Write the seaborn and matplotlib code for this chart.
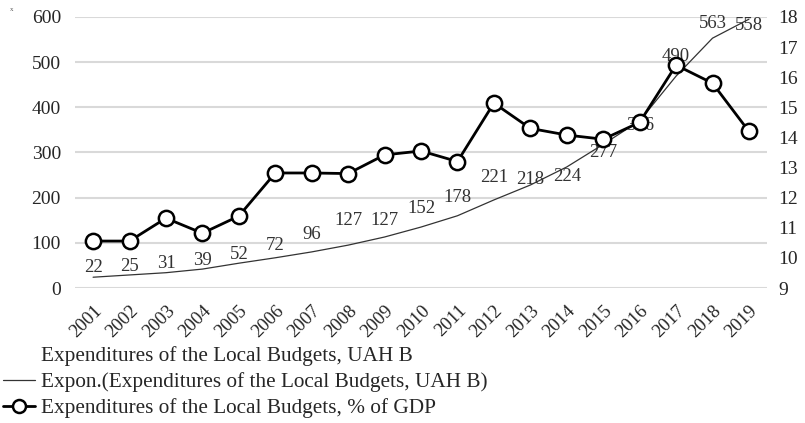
import matplotlib
matplotlib.use("Agg")
import matplotlib.pyplot as plt
import seaborn as sns
import pandas as pd

# Local budget expenditures, Ukraine, 2001-2019
years = [2001, 2002, 2003, 2004, 2005, 2006, 2007, 2008, 2009, 2010,
         2011, 2012, 2013, 2014, 2015, 2016, 2017, 2018, 2019]
uah_bn = [22, 25, 31, 39, 52, 72, 96, 127, 127, 152,
          178, 221, 218, 224, 277, 336, 490, 563, 558]
trend_uah = [24, 29, 34, 42, 55, 67, 80, 95, 113, 135,
             160, 195, 228, 268, 318, 370, 469, 553, 595]
pct_gdp = [10.56, 10.56, 11.32, 10.82, 11.39, 12.82, 12.82, 12.8, 13.42, 13.55,
           13.2, 15.14, 14.3, 14.08, 13.94, 14.5, 16.4, 15.8, 14.2]

left_ticks = [0, 100, 200, 300, 400, 500, 600]
right_ticks = [9, 10, 11, 12, 13, 14, 15, 16, 17, 18]

lbl_uah = "Expenditures of the Local Budgets, UAH B"
lbl_trend = "Expon.(Expenditures of the Local Budgets, UAH B)"
lbl_pct = "Expenditures of the Local Budgets, % of GDP"

df = pd.DataFrame({"year": years, "uah": uah_bn, "trend": trend_uah, "pct": pct_gdp})

sns.set_theme(style="white")
plt.rcParams["font.family"] = ["Liberation Serif", "DejaVu Serif"]
plt.rcParams["text.color"] = "#262626"

fig = plt.figure(figsize=(8.05, 4.23), dpi=100)
ax = fig.add_axes([0.093, 0.319, 0.860, 0.641])
ax2 = ax.twinx()

# value series is shown only through its data labels
sns.lineplot(data=df, x="year", y="uah", ax=ax, linewidth=0, color="black", label=lbl_uah)
sns.lineplot(data=df, x="year", y="trend", ax=ax, linewidth=0.9, color="#333333", label=lbl_trend)
sns.lineplot(data=df, x="year", y="pct", ax=ax2, color="black", linewidth=2.0,
             marker="o", markersize=11, markerfacecolor="white",
             markeredgecolor="black", markeredgewidth=1.8, label=lbl_pct)

for yr, v in zip(years, uah_bn):
    ax.annotate(str(v), (yr, v), xytext=(0, 7.5), textcoords="offset points",
                ha="center", va="center", fontsize=13.5, color="#333333")

ax.set_xlim(2000.5, 2019.5)
ax.set_ylim(0, 600)
ax2.set_ylim(9, 18)
ax.set_yticks(left_ticks)
ax2.set_yticks(right_ticks)
ax.set_xticks(years)
ax.set_xticklabels([str(y) for y in years], rotation=45, ha="right",
                   rotation_mode="anchor", fontsize=13.5)
ax.tick_params(axis="y", labelsize=14, pad=10, length=0)
ax.tick_params(axis="x", length=0, pad=10)
ax2.tick_params(axis="y", labelsize=14, pad=8, length=0)
ax.set_xlabel("")
ax.set_ylabel("")
ax2.set_ylabel("")

ax.grid(axis="y", color="#d9d9d9", linewidth=1.5)
ax.set_axisbelow(True)
for a in (ax, ax2):
    for s in a.spines.values():
        s.set_visible(False)

h1, l1 = ax.get_legend_handles_labels()
h2, l2 = ax2.get_legend_handles_labels()
ax.get_legend().remove()
ax2.get_legend().remove()
fig.legend(h1 + h2, l1 + l2, loc="upper left", bbox_to_anchor=(0.0, 0.19),
           frameon=False, fontsize=15.3, handlelength=1.5, handletextpad=0.3,
           labelspacing=0.3, borderaxespad=0, borderpad=0.15, markerscale=0.85)

fig.text(0.012, 0.975, "x", fontsize=5, color="#555555")

fig.savefig("out.png", dpi=100)
